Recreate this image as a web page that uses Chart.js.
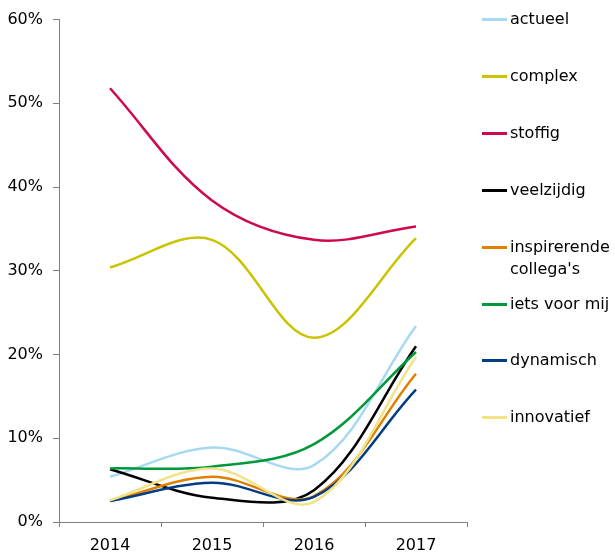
<!DOCTYPE html>
<html>
<head>
<meta charset="utf-8">
<script src="https://cdn.jsdelivr.net/npm/chart.js@4"></script>
<style>
  body { margin: 0; background: #fff; }
  #wrap { position: relative; width: 615px; height: 554px; }
  #legend { position: absolute; left: 482px; top: 0; font-family: "DejaVu Sans", sans-serif; font-size: 16px; color: #000; }
  .item { position: absolute; left: 0; white-space: nowrap; line-height: 22px; }
  .item span.sw { position: absolute; left: 0; top: 10px; width: 25px; height: 3px; }
  .item span.tx { position: absolute; left: 28px; top: 0; }
</style>
</head>
<body>
<div id="wrap">
  <canvas id="chart" width="615" height="554"></canvas>
  <div id="legend"></div>
</div>
<script>
// data
const years = ['2014', '2015', '2016', '2017'];
const names = ['actueel', 'complex', 'stoffig', 'veelzijdig', "inspirerende\ncollega's", 'iets voor mij', 'dynamisch', 'innovatief'];
const actueel = [5.4, 8.9, 6.8, 23.4];
const complex = [30.4, 33.7, 22.0, 33.9];
const stoffig = [51.8, 38.4, 33.7, 35.3];
const veelzijdig = [6.3, 2.9, 3.8, 21.0];
const inspirerende = [2.5, 5.4, 3.1, 17.7];
const ietsVoorMij = [6.4, 6.6, 9.3, 20.3];
const dynamisch = [2.5, 4.7, 3.0, 15.8];
const innovatief = [2.6, 6.4, 2.4, 19.7];
const yTicks = [0, 10, 20, 30, 40, 50, 60];

const colors = ['#a7d9f1', '#c9c300', '#cc0a4d', '#000000', '#e08000', '#00983a', '#003d85', '#f2e387'];
const series = [actueel, complex, stoffig, veelzijdig, inspirerende, ietsVoorMij, dynamisch, innovatief];

const datasets = series.map(function (vals, i) {
    return {
        label: names[i],
        data: vals,
        borderColor: colors[i],
        backgroundColor: colors[i],
        borderWidth: 2.5,
        pointRadius: 0,
        tension: 0.35,
        fill: false,
        order: names.length - i
    };
});

// legend on the right
const legendTops = [8, 65, 122, 179, 236, 293, 349, 406];
const legend = document.getElementById('legend');
names.forEach(function (n, i) {
    const it = document.createElement('div');
    it.className = 'item';
    it.style.top = legendTops[i] + 'px';
    it.innerHTML = '<span class="sw" style="background:' + colors[i] + '"></span><span class="tx">' + n.replace('\n', '<br>') + '</span>';
    legend.appendChild(it);
});

const font = { family: 'DejaVu Sans', size: 16 };
const ctx = document.getElementById('chart').getContext('2d');
new Chart(ctx, {
    type: 'line',
    data: { labels: years, datasets: datasets },
    options: {
        responsive: false,
        animation: false,
        layout: { padding: { top: 17, right: 148, left: 0, bottom: 0 } },
        plugins: { legend: { display: false }, tooltip: { enabled: false } },
        scales: {
            x: {
                offset: true,
                grid: { drawOnChartArea: false, drawTicks: true, tickLength: 5, offset: true, color: '#808080' },
                border: { color: '#808080', width: 1 },
                ticks: { color: '#000', font: font, padding: 9 },
                afterFit: function (s) { s.height = 32; }
            },
            y: {
                min: 0, max: 60,
                afterBuildTicks: function (s) { s.ticks = yTicks.map(function (v) { return { value: v }; }); },
                grid: { drawOnChartArea: false, drawTicks: true, tickLength: 6, color: '#808080' },
                border: { color: '#808080', width: 1 },
                ticks: { color: '#000', font: font, padding: 10, callback: function (v) { return v + '%'; } },
                afterFit: function (s) { s.width = 59; }
            }
        }
    }
});
</script>
</body>
</html>
